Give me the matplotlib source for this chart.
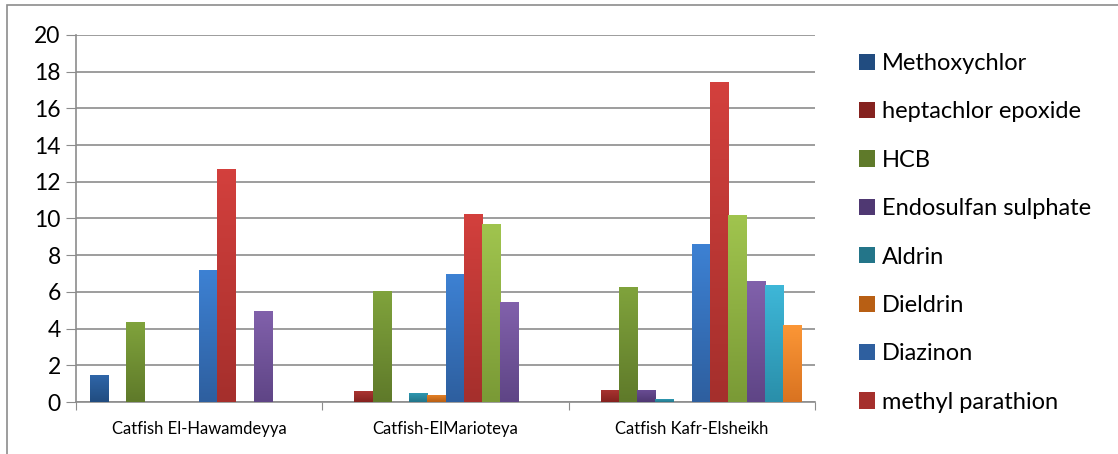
import numpy as np
from matplotlib import pyplot as plt
from matplotlib.colors import LinearSegmentedColormap
from matplotlib.patches import Rectangle

plt.rcParams['font.family'] = ['Lato', 'DejaVu Sans']

sites = ['Catfish El-Hawamdeyya', 'Catfish-ElMarioteya', 'Catfish Kafr-Elsheikh']

# the legend only names the first eight series, the rest stay unlabelled
series_names = ['Methoxychlor', 'heptachlor epoxide', 'HCB', 'Endosulfan sulphate',
                'Aldrin', 'Dieldrin', 'Diazinon', 'methyl parathion',
                'series 9', 'series 10', 'series 11', 'series 12']
n_legend = 8

methoxychlor = [1.47, 0, 0]
heptachlor_epoxide = [0, 0.58, 0.67]
hcb = [4.37, 6.07, 6.27]
endosulfan_sulphate = [0, 0, 0.67]
aldrin = [0, 0.50, 0.15]
dieldrin = [0, 0.38, 0]
diazinon = [7.19, 6.97, 8.59]
methyl_parathion = [12.7, 10.25, 17.44]
series_9 = [0, 9.68, 10.17]
series_10 = [4.98, 5.43, 6.58]
series_11 = [0, 0, 6.38]
series_12 = [0, 0, 4.18]

values = [methoxychlor, heptachlor_epoxide, hcb, endosulfan_sulphate, aldrin, dieldrin,
          diazinon, methyl_parathion, series_9, series_10, series_11, series_12]

# (bottom colour, top colour) for the Excel style gradient
colors = [('#214c80', '#2f66a8'), ('#85221f', '#aa3431'), ('#5f7a2a', '#80a33c'),
          ('#4f3872', '#6b4e96'), ('#237589', '#2f9bb4'), ('#b85f14', '#e48026'),
          ('#2e5f9f', '#3d81d3'), ('#a52f2c', '#d3403d'), ('#7a9a36', '#a0c44e'),
          ('#5f4586', '#8161ab'), ('#2a8faa', '#3eb7d8'), ('#d97321', '#fb9636')]

fig = plt.figure(figsize=(11.18, 4.54), dpi=100)
ax = fig.add_axes([0.068, 0.1145, 0.661, 0.8085])

n_series = len(values)
x = np.arange(len(sites))
width = 1.0 / (n_series + 1.5)
offset0 = -0.5 + 0.75 * width + width / 2

handles = []
for i, (vals, (c_bot, c_top)) in enumerate(zip(values, colors)):
    bars = ax.bar(x + offset0 + i * width, vals, width, color=c_top, linewidth=0, zorder=2)
    cmap = LinearSegmentedColormap.from_list('g%d' % i, [c_bot, c_top])
    grad = np.linspace(0, 1, 64).reshape(-1, 1)
    for patch in bars.patches:
        h = patch.get_height()
        if h <= 0:
            continue
        x0 = patch.get_x()
        img = ax.imshow(grad, cmap=cmap, origin='lower', aspect='auto', zorder=3,
                        extent=(x0, x0 + patch.get_width(), 0, h), interpolation='bilinear')
        img.set_clip_path(patch)
    handles.append(Rectangle((0, 0), 1, 1, facecolor=c_bot, edgecolor='none'))

ax.set_xlim(-0.5, len(sites) - 0.5)
ax.set_ylim(0, 20)
ax.set_yticks(range(0, 21, 2))
ax.set_yticklabels([str(v) for v in range(0, 21, 2)], fontsize=16.5)
ax.yaxis.grid(True, color='#8c8c8c', linewidth=1.2, zorder=0)
ax.set_axisbelow(True)

# category labels between tick marks
ax.set_xticks(np.arange(len(sites) + 1) - 0.5)
ax.set_xticklabels([])
ax.set_xticks(x, minor=True)
ax.set_xticklabels(sites, minor=True, fontsize=12)
ax.tick_params(axis='x', which='minor', length=0, pad=14)
ax.tick_params(axis='x', which='major', length=6, color='#8c8c8c', direction='out')
ax.tick_params(axis='y', length=7, color='#8c8c8c', direction='out', pad=4)

for side in ['top', 'right']:
    ax.spines[side].set_visible(False)
for side in ['left', 'bottom']:
    ax.spines[side].set_color('#8c8c8c')
    ax.spines[side].set_linewidth(1.2)

leg = fig.legend(handles[:n_legend], series_names[:n_legend], loc='upper left',
                 bbox_to_anchor=(0.760, 0.904), frameon=False, fontsize=17,
                 handlelength=0.68, handleheight=0.68, handletextpad=0.28,
                 labelspacing=1.16, borderaxespad=0)

# outer chart border, only top and left fall inside the picture
fig.patches.append(Rectangle((0.006, -0.05), 1.1, 1.039, transform=fig.transFigure,
                             fill=False, edgecolor='#8c8c8c', linewidth=1.2))

plt.savefig('out.png', dpi=100)
plt.close('all')
